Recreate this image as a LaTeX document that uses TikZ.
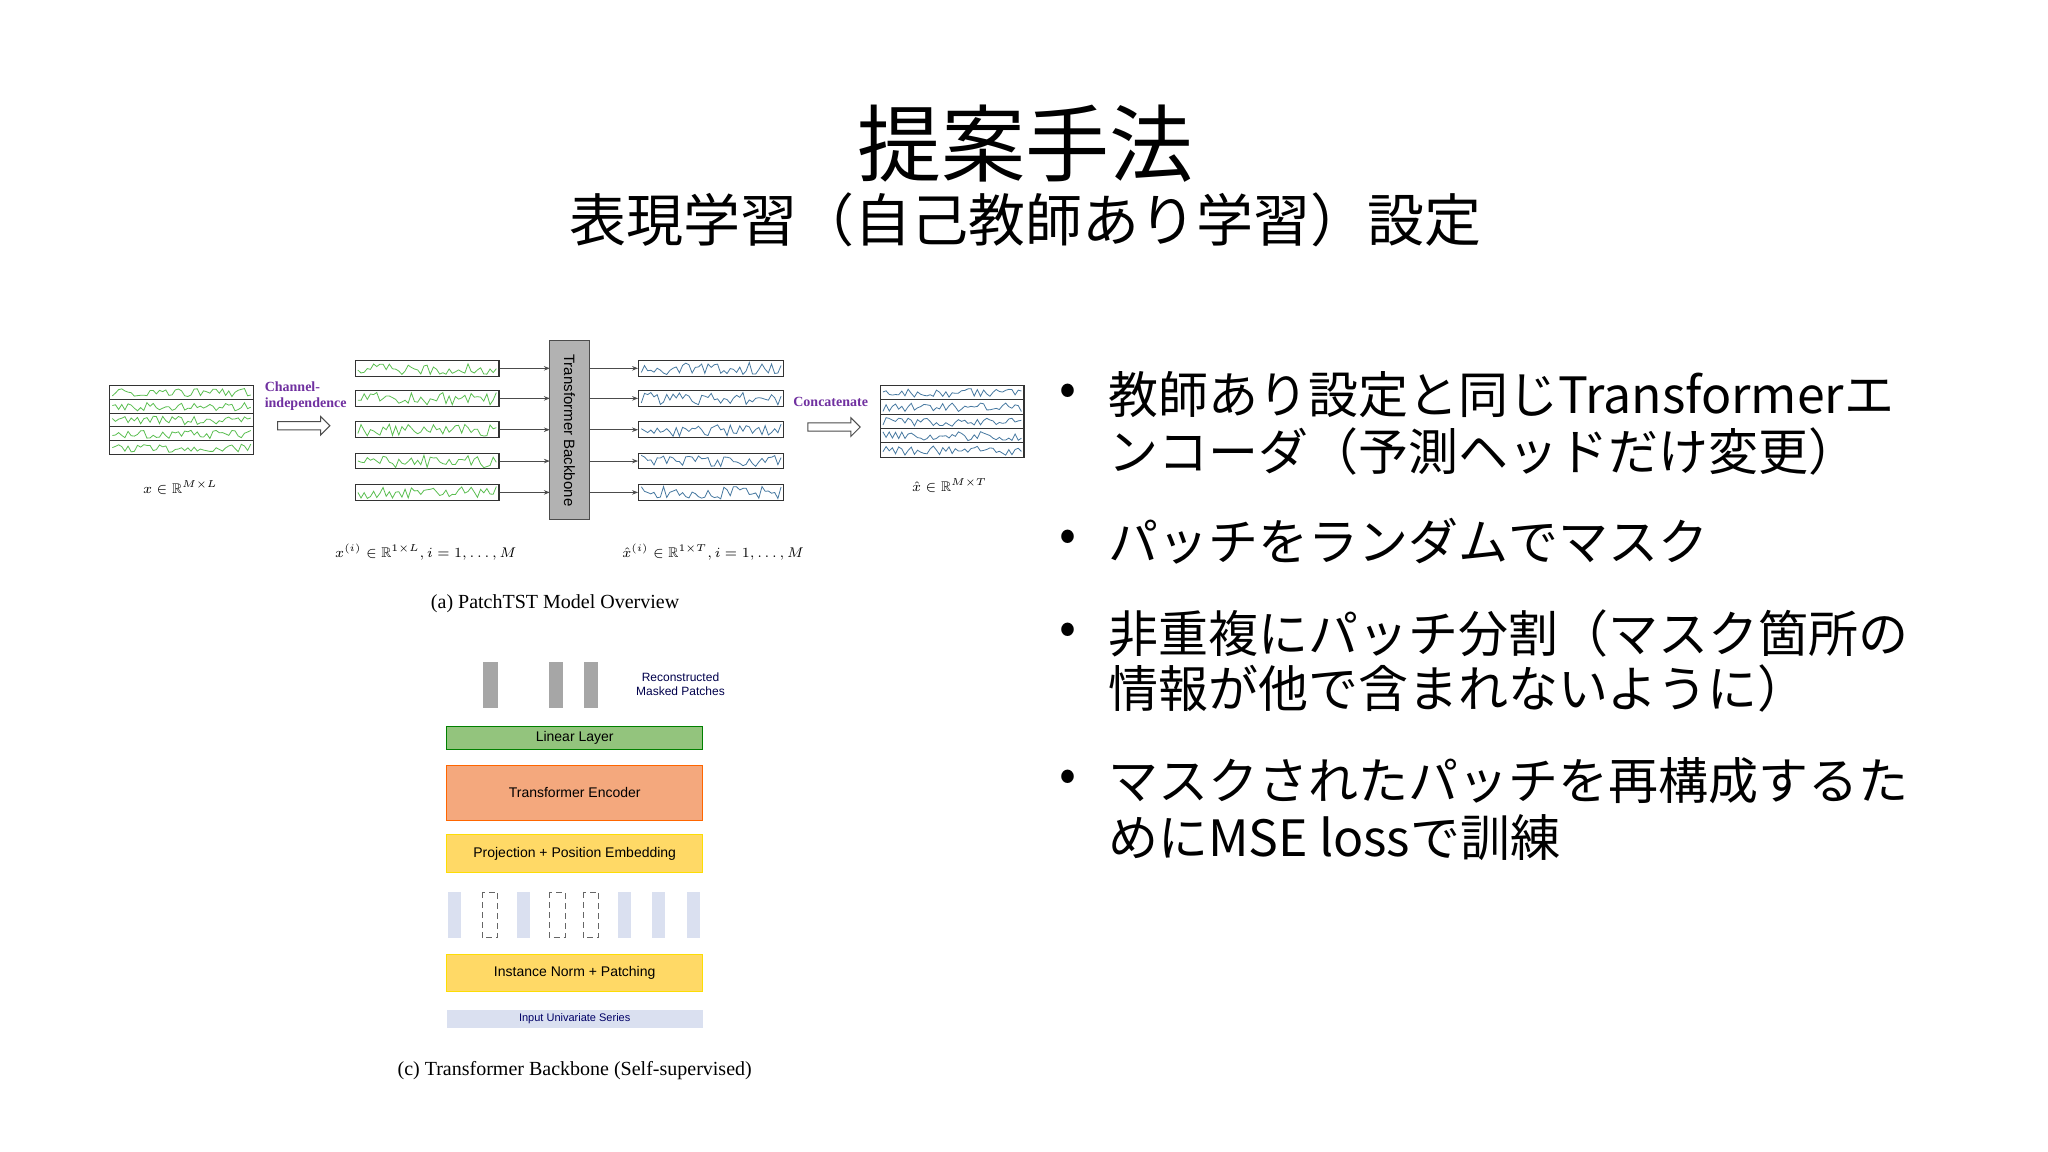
\documentclass[tikz,border=0pt]{standalone}
\usepackage{amssymb}
\usepackage{fontspec}
\setmainfont{Liberation Serif}
\newfontfamily\jp{Noto Sans CJK JP}
\newfontfamily\ar{Liberation Sans}
\usetikzlibrary{arrows.meta,shapes.arrows}
\definecolor{wgreen}{RGB}{90,190,80}
\definecolor{wblue}{RGB}{70,120,160}
\definecolor{lgreen}{RGB}{147,196,125}
\definecolor{lorange}{RGB}{244,168,125}
\definecolor{lyellow}{RGB}{255,217,102}
\definecolor{lblue}{RGB}{218,224,240}
\definecolor{purp}{RGB}{112,48,160}
\tikzset{
  blk/.style={draw=black!80, line width=0.6pt, minimum width=196*0.653pt, inner sep=0pt, font=\ar\fontsize{7}{8}\selectfont},
  figcap/.style={font=\fontsize{10}{12}\selectfont},
  mlab/.style={font=\fontsize{7}{8}\selectfont},
  arr/.style={-{Stealth[length=3pt]}, black!70, line width=0.5pt},
  fat/.style={shape=single arrow, draw=black!70, fill=white, line width=0.5pt, minimum height=40*0.653pt, single arrow head extend=2.6pt, single arrow head indent=0pt, inner sep=1.8pt},
  bullet/.style={anchor=west, font=\jp\fontsize{25}{30}\selectfont, inner sep=0pt}
}
\begin{document}
\begin{tikzpicture}[x=0.653pt,y=-0.653pt]
\useasboundingbox (0,0) rectangle (1568,882);
\fill[white] (0,0) rectangle (1568,882);
% titles
\node[font=\jp\fontsize{42}{48}\selectfont] (title) at (785,110) {提案手法};
\node[font=\jp\fontsize{28.5}{32}\selectfont] (sub) at (785,168) {表現学習（自己教師あり学習）設定};
% bullets
\foreach \y in {302,414,485,598} \node[font=\jp\fontsize{25}{30}\selectfont] at (818,\y) {•};
\node[bullet] (b1) at (848,302) {教師あり設定と同じTransformerエ};
\node[bullet] (b1b) at (848,346) {ンコーダ（予測ヘッドだけ変更）};
\node[bullet] (b2) at (848,414) {パッチをランダムでマスク};
\node[bullet] (b3) at (848,485) {非重複にパッチ分割（マスク箇所の};
\node[bullet] (b3b) at (848,527) {情報が他で含まれないように）};
\node[bullet] (b4) at (848,598) {マスクされたパッチを再構成するた};
\node[bullet] (b4b) at (848,641) {めにMSE lossで訓練};
% ---- (a)
\pgfmathsetseed{7}
\draw[black!80, line width=0.6pt] (84,295) rectangle (194,348);
\foreach \i in {1,...,4} \draw[black!80] (84,{295+\i*10.6}) -- (194,{295+\i*10.6});
\foreach \i in {0,...,4} \draw[wgreen, line width=0.4pt] plot[domain=86:192, samples=45] (\x,{295+\i*10.6+9-6.5*rnd});
\node[mlab] (xin) at (138,373) {$x\in\mathbb{R}^{M\times L}$};
\node[font=\bfseries\fontsize{7}{8}\selectfont, text=purp, align=left] (ci) at (234,303) {Channel-\\independence};
\node[fat] (ar1) at (231,326) {};
\node[draw=black!70, fill=black!30, minimum width=30*0.653pt, minimum height=137*0.653pt, inner sep=0pt] (bb) at (436,329.5) {};
\node[rotate=-90, font=\ar\fontsize{7.5}{8}\selectfont] (bbt) at (436,329.5) {Transformer Backbone};
\foreach \y [count=\k] in {282,305,329,353,377} {
  \node[draw=black!80, line width=0.6pt, minimum width=110*0.653pt, minimum height=12*0.653pt, inner sep=0pt] (c\k) at (327,\y) {};
  \draw[wgreen, line width=0.4pt] plot[domain=274:380, samples=45] (\x,{\y+5-9.5*rnd});
  \node[draw=black!80, line width=0.6pt, minimum width=111*0.653pt, minimum height=12*0.653pt, inner sep=0pt] (o\k) at (544.5,\y) {};
  \draw[wblue, line width=0.4pt] plot[domain=491:598, samples=45] (\x,{\y+5-9.5*rnd});
  \coordinate (bl\k) at (421,\y);
  \coordinate (br\k) at (451,\y);
  \draw[arr] (c\k.east) -- (bl\k);
  \draw[arr] (br\k) -- (o\k.west);
}
\node[mlab] (xi) at (326,423) {$x^{(i)}\in\mathbb{R}^{1\times L}, i=1,\ldots,M$};
\node[mlab] (xh) at (546,423) {$\hat{x}^{(i)}\in\mathbb{R}^{1\times T}, i=1,\ldots,M$};
\node[font=\bfseries\fontsize{7}{8}\selectfont, text=purp] (cc) at (636,308) {Concatenate};
\node[fat] (ar2) at (637,327) {};
\draw[black!80, line width=0.6pt] (674,295) rectangle (784,350);
\foreach \i in {1,...,4} \draw[black!80] (674,{295+\i*11}) -- (784,{295+\i*11});
\foreach \i in {0,...,4} \draw[wblue, line width=0.4pt] plot[domain=676:782, samples=45] (\x,{295+\i*11+9.5-7*rnd});
\node[mlab] (xo) at (727,372) {$\hat{x}\in\mathbb{R}^{M\times T}$};
\node[figcap] (capa) at (425,462) {(a) PatchTST Model Overview};
% ---- (c)
\foreach \x [count=\k] in {375.5,425.5,452.5} \fill[black!35] (\x-5.5,507) rectangle (\x+5.5,542);
\node[font=\ar\fontsize{6}{7}\selectfont, text=black!70!blue, align=center] (rmp) at (521,524) {Reconstructed\\Masked Patches};
\node[blk, fill=lgreen, draw=green!50!black, minimum height=18*0.653pt] (lin) at (440,565) {Linear Layer};
\node[blk, fill=lorange, draw=orange!80!red, minimum height=42*0.653pt] (enc) at (440,607) {Transformer Encoder};
\node[blk, fill=lyellow, draw=yellow!80!orange, minimum height=29*0.653pt] (proj) at (440,653.5) {Projection + Position Embedding};
\foreach \x in {348,401,478,504,531} \fill[lblue] (\x-5,683) rectangle (\x+5,718);
\foreach \x in {375,426.5,452.5} \draw[black!60, densely dashed, line width=0.4pt] (\x-6,683) rectangle (\x+6,718);
\node[blk, fill=lyellow, draw=yellow!80!orange, minimum height=28*0.653pt] (inp) at (440,745) {Instance Norm + Patching};
\node[blk, fill=lblue, draw=none, minimum height=14*0.653pt, font=\ar\fontsize{5.5}{6}\selectfont, text=black!60!blue] (ser) at (440,780) {Input Univariate Series};
\node[figcap] (capc) at (440,820) {(c) Transformer Backbone (Self-supervised)};
\end{tikzpicture}
\end{document}
